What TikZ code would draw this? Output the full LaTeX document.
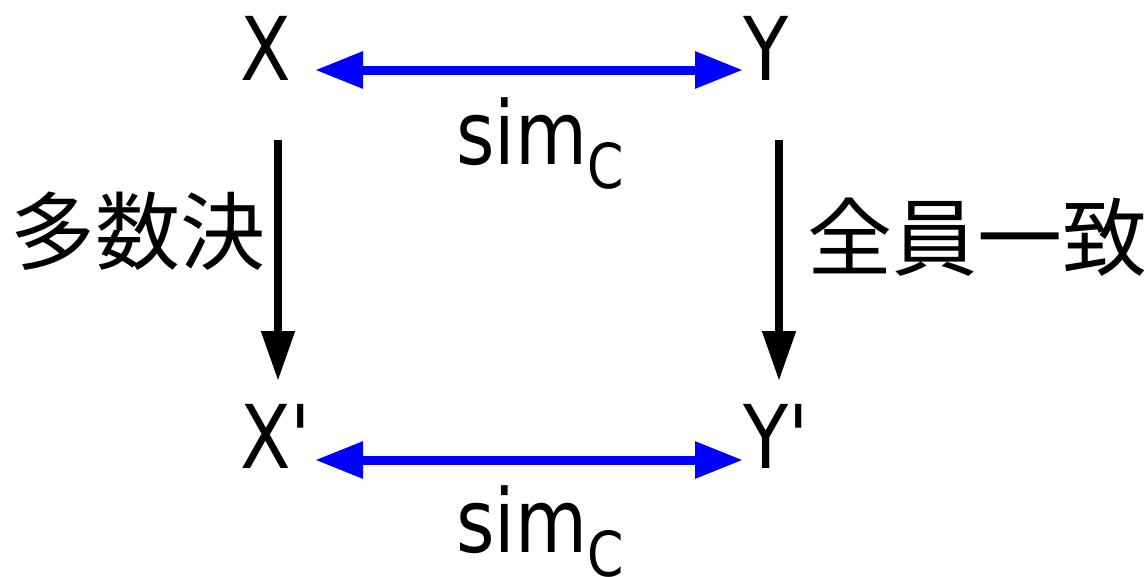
\documentclass[tikz,border=0pt]{standalone}
\usepackage{fontspec}
\newfontfamily\lblfont{DejaVu Sans}[FakeStretch=0.84]
\newfontfamily\jpfont{Noto Sans CJK JP}
\usetikzlibrary{arrows.meta}
\begin{document}
\begin{tikzpicture}[x=1pt,y=-1pt,
  lbl/.style={inner sep=0pt, font=\lblfont\fontsize{88}{100}\selectfont, anchor=base west},
  jplbl/.style={inner sep=0pt, font=\jpfont\fontsize{85}{100}\selectfont},
  bluearrow/.style={draw=blue, line width=9pt,
    {Triangle[length=48pt,width=35pt]}-{Triangle[length=48pt,width=35pt]}},
  blackarrow/.style={draw=black, line width=8pt, -{Triangle[length=50pt,width=32pt]}}]
\useasboundingbox (0,0) rectangle (1147,576);
\node[lbl] (X) at (240,80) {X};
\node[lbl] (Y) at (743,80) {Y};
\node[lbl] (Xp) at (240,468) {X'};
\node[lbl] (Yp) at (743,468) {Y'};
\node[lbl] (s1) at (456,164) {sim\raisebox{-24pt}{\fontsize{62}{70}\selectfont C}};
\node[lbl] (s2) at (456,552) {sim\raisebox{-24pt}{\fontsize{62}{70}\selectfont C}};
\node[jplbl] (maj) at (138,231) {多数決};
\node[jplbl] (una) at (977,237) {全員一致};
\draw[bluearrow] ([shift={(75pt,10pt)}]X.base west) -- ([shift={(0pt,10pt)}]Y.base west);
\draw[bluearrow] ([shift={(75pt,8pt)}]Xp.base west) -- ([shift={(0pt,8pt)}]Yp.base west);
\draw[blackarrow] ([shift={(38pt,-60pt)}]X.base west) -- ([shift={(38pt,87pt)}]Xp.base west);
\draw[blackarrow] ([shift={(36pt,-60pt)}]Y.base west) -- ([shift={(36pt,87pt)}]Yp.base west);
\end{tikzpicture}
\end{document}
